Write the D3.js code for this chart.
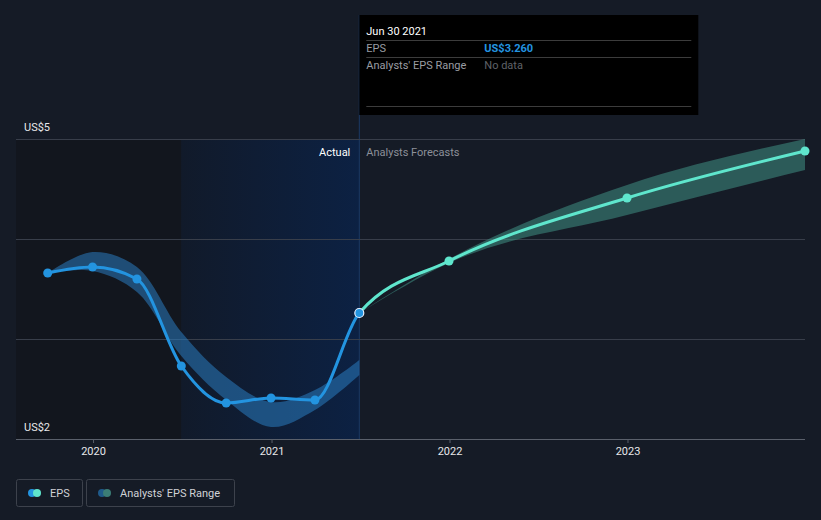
<!DOCTYPE html>
<html><head><meta charset="utf-8">
<script src="https://cdn.jsdelivr.net/npm/d3@7"></script>
<style>
html,body{margin:0;padding:0;background:#151b26;}
svg{display:block;font-family:Roboto,"Noto Sans",sans-serif;}
</style></head>
<body><svg id="c" width="821" height="520"></svg>
<script>
// ---- data ----
const actualDates = ["2019-09-30","2019-12-31","2020-03-31","2020-06-30","2020-09-30","2020-12-31","2021-03-31","2021-06-30"];
const actualEps   = [3.66, 3.72, 3.60, 2.73, 2.36, 2.41, 2.39, 3.26];
const pastRangeLow  = [3.66, 3.68, 3.47, 2.83, 2.39, 2.12, 2.29, 2.64];
const pastRangeHigh = [3.66, 3.87, 3.72, 3.07, 2.62, 2.37, 2.49, 2.79];
const forecastDates = ["2021-06-30","2021-12-31","2022-12-31","2023-12-31"];
const forecastEps   = [3.26, 3.78, 4.41, 4.88];
const forecastLow   = [3.26, 3.76, 4.24, 4.69];
const forecastHigh  = [3.26, 3.80, 4.54, 5.00];
const yTicks = [2, 5];
const yTickLabels = ["US$2", "US$5"];
const xTickYears = [2020, 2021, 2022, 2023];
const tooltipDate = "Jun 30 2021";
const tooltipEps = "US$3.260";
const tooltipRange = "No data";

// ---- setup ----
const parse = d3.timeParse("%Y-%m-%d");
const svg = d3.select("#c");
const W = 821, H = 520;
const x = d3.scaleTime().domain([parse("2019-07-27"), parse("2023-12-31")]).range([16, 805]);
const y = d3.scaleLinear().domain([2, 5]).range([439, 139]);

const lastActual = parse(actualDates[actualDates.length-1]);
const oneYearBefore = parse("2020-06-30");
const splitX = x(lastActual);

const defs = svg.append("defs");
const grad = defs.append("linearGradient").attr("id","actGrad").attr("x1","0").attr("x2","1").attr("y1","0").attr("y2","0");
grad.append("stop").attr("offset","0%").attr("stop-color","#111a2a");
grad.append("stop").attr("offset","100%").attr("stop-color","#0c2143");
defs.append("clipPath").attr("id","clipL").append("rect").attr("x",0).attr("y",0).attr("width",splitX).attr("height",H);
defs.append("clipPath").attr("id","clipR").append("rect").attr("x",splitX).attr("y",0).attr("width",W-splitX).attr("height",H);

svg.append("rect").attr("width",W).attr("height",H).attr("fill","#151b26");

// shaded past region
svg.append("rect").attr("x", x.range()[0]).attr("y", y(5)).attr("width", x(oneYearBefore)-x.range()[0]).attr("height", y(2)-y(5)).attr("fill","#12161e");
svg.append("rect").attr("x", x(oneYearBefore)).attr("y", y(5)).attr("width", splitX-x(oneYearBefore)).attr("height", y(2)-y(5)).attr("fill","url(#actGrad)");
svg.append("line").attr("x1", splitX).attr("x2", splitX).attr("y1", 15).attr("y2", y(2)).attr("stroke","#1b3a66").attr("stroke-width",1);

// gridlines
svg.append("g").selectAll("line").data([3,4,5]).join("line")
  .attr("x1",16).attr("x2",805).attr("y1",d=>y(d)+0.5).attr("y2",d=>y(d)+0.5)
  .attr("stroke","#383e4a").attr("stroke-width",1);

// x axis
const xAxis = d3.axisBottom(x).tickValues(xTickYears.map(yr=>new Date(yr,0,1))).tickFormat(d3.timeFormat("%Y")).tickSize(4).tickPadding(4);
const gx = svg.append("g").attr("transform",`translate(0,${y(2)})`).call(xAxis);
gx.select(".domain").attr("stroke","#5a606b").attr("d","M16,0.5H805");
gx.selectAll(".tick line").attr("stroke","#5a606b");
gx.selectAll(".tick text").attr("fill","#e8e8ea").attr("font-size",11).attr("font-family","Roboto, sans-serif");

// y labels
svg.append("g").selectAll("text").data(yTicks).join("text")
  .attr("x",24).attr("y",d=>y(d)-8).attr("fill","#e8e8ea").attr("font-size",11)
  .text((d,i)=>yTickLabels[i]);

// bands
const pastBand = actualDates.map((d,i)=>({date:parse(d), lo:pastRangeLow[i], hi:pastRangeHigh[i]}));
const fcBand = forecastDates.map((d,i)=>({date:parse(d), lo:forecastLow[i], hi:forecastHigh[i]}));
const pastArea = d3.area().x(d=>x(d.date)).y0(d=>y(d.lo)).y1(d=>y(d.hi)).curve(d3.curveCatmullRom);
const fcArea = d3.area().x(d=>x(d.date)).y0(d=>y(d.lo)).y1(d=>y(d.hi)).curve(d3.curveMonotoneX);
svg.append("path").datum(pastBand).attr("d",pastArea).attr("fill","#2a7bc0").attr("fill-opacity",0.55);
svg.append("path").datum(fcBand).attr("d",fcArea).attr("fill","#3f8f84").attr("fill-opacity",0.55);

// lines (one continuous series, coloured by actual / forecast)
const act = actualDates.map((d,i)=>({date:parse(d), v:actualEps[i]}));
const fc = forecastDates.map((d,i)=>({date:parse(d), v:forecastEps[i]}));
const all = act.concat(fc.slice(1));
const line = d3.line().x(d=>x(d.date)).y(d=>y(d.v)).curve(d3.curveMonotoneX);
svg.append("path").datum(all).attr("d",line).attr("fill","none").attr("stroke","#5fe6cd").attr("stroke-width",3).attr("clip-path","url(#clipR)");
svg.append("path").datum(all).attr("d",line).attr("fill","none").attr("stroke","#2394e0").attr("stroke-width",3).attr("clip-path","url(#clipL)");
svg.append("g").selectAll("circle").data(fc.slice(1)).join("circle")
  .attr("cx",d=>x(d.date)).attr("cy",d=>y(d.v)).attr("r",4.5).attr("fill","#5fe6cd");
svg.append("g").selectAll("circle").data(act.slice(0,-1)).join("circle")
  .attr("cx",d=>x(d.date)).attr("cy",d=>y(d.v)).attr("r",4.5).attr("fill","#2394e0");
const lastPt = act[act.length-1];
svg.append("circle").attr("cx",x(lastPt.date)).attr("cy",y(lastPt.v)).attr("r",4.5).attr("fill","#2394e0").attr("stroke","#e8f0ff").attr("stroke-width",1.2);

// Actual / Forecast labels
svg.append("text").attr("x",splitX-9).attr("y",156).attr("text-anchor","end").attr("fill","#ffffff").attr("font-size",11).text("Actual");
svg.append("text").attr("x",splitX+7).attr("y",156).attr("fill","#8c9099").attr("font-size",11).text("Analysts Forecasts");

// tooltip
const tx = splitX;
const tt = svg.append("g");
tt.append("rect").attr("x",tx).attr("y",15).attr("width",339).attr("height",100).attr("fill","#000000");
tt.append("text").attr("x",tx+7).attr("y",35).attr("fill","#ffffff").attr("font-size",11).text(tooltipDate);
[40,57,106].forEach(yy=>tt.append("line").attr("x1",tx+7).attr("x2",tx+332).attr("y1",yy+0.5).attr("y2",yy+0.5).attr("stroke","#3c3c3c"));
tt.append("text").attr("x",tx+7).attr("y",52).attr("fill","#9a9da3").attr("font-size",11).text("EPS");
tt.append("text").attr("x",tx+125).attr("y",52).attr("fill","#2394e0").attr("font-size",11).attr("font-weight","bold").text(tooltipEps);
tt.append("text").attr("x",tx+7).attr("y",69).attr("fill","#9a9da3").attr("font-size",11).text("Analysts' EPS Range");
tt.append("text").attr("x",tx+125).attr("y",69).attr("fill","#5f6268").attr("font-size",11).text(tooltipRange);

// legend
const lg = svg.append("g");
lg.append("rect").attr("x",16.5).attr("y",479.5).attr("width",66).attr("height",27).attr("rx",2).attr("fill","none").attr("stroke","#3d424c");
lg.append("circle").attr("cx",32).attr("cy",493).attr("r",4).attr("fill","#2394e0");
lg.append("circle").attr("cx",37).attr("cy",493).attr("r",4).attr("fill","#5fe6cd");
lg.append("text").attr("x",50).attr("y",497).attr("fill","#d0d2d6").attr("font-size",11).text("EPS");
lg.append("rect").attr("x",86.5).attr("y",479.5).attr("width",148).attr("height",27).attr("rx",2).attr("fill","none").attr("stroke","#3d424c");
lg.append("circle").attr("cx",102).attr("cy",493).attr("r",4).attr("fill","#1f5a8a");
lg.append("circle").attr("cx",107).attr("cy",493).attr("r",4).attr("fill","#3b7d76");
lg.append("text").attr("x",120).attr("y",497).attr("fill","#d0d2d6").attr("font-size",11).text("Analysts' EPS Range");
</script>
</body></html>
